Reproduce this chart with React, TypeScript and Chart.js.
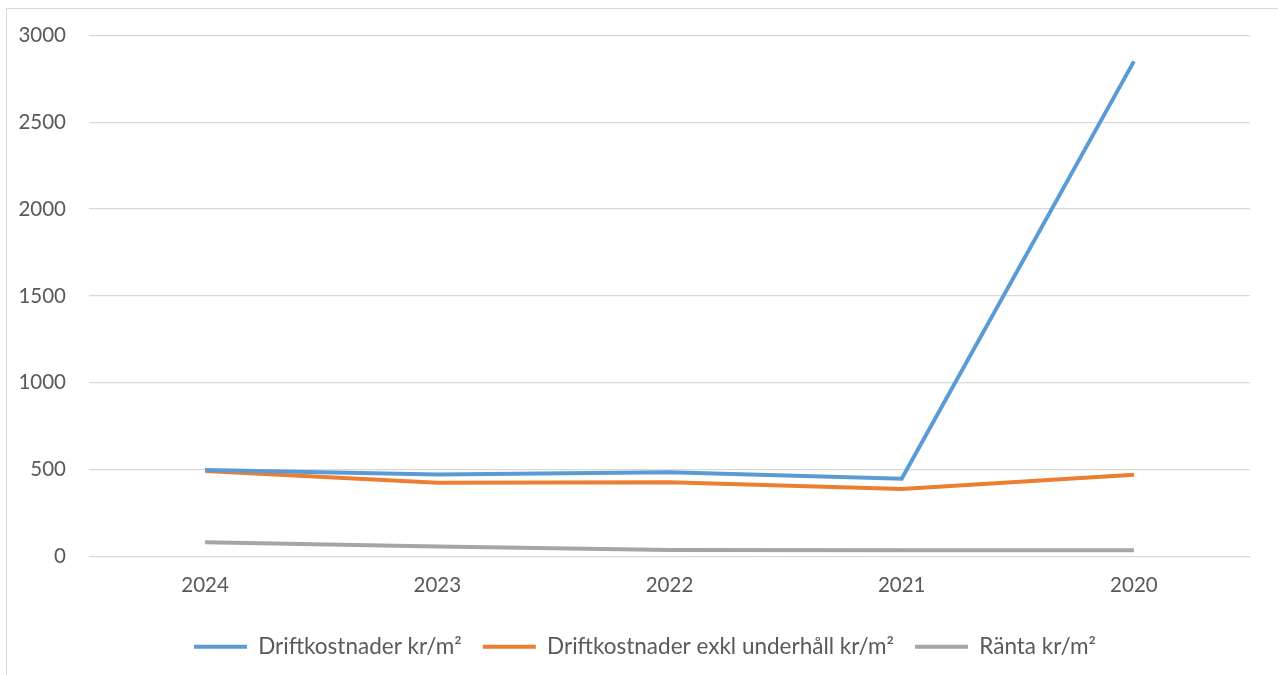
import React, { useEffect, useRef } from "react";
import { Chart, registerables } from "chart.js";

Chart.register(...registerables);

const categories = ["2024", "2023", "2022", "2021", "2020"];
const driftkostnader = [498, 472, 485, 448, 2850];
const driftkostnaderExkl = [492, 424, 427, 389, 471];
const ranta = [82, 58, 37, 36, 36];
const yTicks = [0, 500, 1000, 1500, 2000, 2500, 3000];

const FONT = "Lato";
const TEXT = "#595959";

const legendShift = {
  id: "legendShift",
  afterLayout(chart: any) {
    if (chart.legend) {
      chart.legend.left += 20;
      chart.legend.right += 20;
    }
  },
};

export default function App() {
  const ref = useRef<HTMLCanvasElement>(null);
  useEffect(() => {
    if (!ref.current) return;
    const chart = new Chart(ref.current, {
      type: "line",
      data: {
        labels: categories,
        datasets: [
          { label: "Driftkostnader kr/m²", data: driftkostnader, borderColor: "#5B9BD5", backgroundColor: "#5B9BD5", borderWidth: 4, pointRadius: 0, tension: 0 },
          { label: "Driftkostnader exkl underhåll kr/m²", data: driftkostnaderExkl, borderColor: "#ED7D31", backgroundColor: "#ED7D31", borderWidth: 4, pointRadius: 0, tension: 0 },
          { label: "Ränta kr/m²", data: ranta, borderColor: "#A5A5A5", backgroundColor: "#A5A5A5", borderWidth: 4, pointRadius: 0, tension: 0 },
        ],
      },
      options: {
        animation: false,
        responsive: false,
        maintainAspectRatio: false,
        layout: { padding: { left: 0, right: 28, top: 35, bottom: 7 } },
        scales: {
          x: {
            offset: true,
            grid: { display: false, drawTicks: false },
            border: { display: false },
            ticks: { color: TEXT, font: { family: FONT, size: 20.5 }, padding: 17 },
            afterFit: (s: any) => { s.height = 58; },
          },
          y: {
            min: 0,
            max: 3000,
            afterBuildTicks: (s: any) => { s.ticks = yTicks.map((v) => ({ value: v })); },
            grid: { color: "#D9D9D9", lineWidth: 1.3, drawTicks: false },
            border: { display: false },
            ticks: {
              color: TEXT,
              font: { family: FONT, size: 20.5 },
              padding: 23,
              callback: (v: any) => String(v),
            },
            afterFit: (s: any) => { s.width = 89; },
          },
        },
        plugins: {
          legend: {
            position: "bottom",
            labels: {
              usePointStyle: true,
              pointStyle: "line",
              pointStyleWidth: 53,
              color: TEXT,
              font: { family: FONT, size: 22.5 },
              padding: 21,
            },
          },
          tooltip: { enabled: false },
        },
      },
      plugins: [legendShift],
    });
    return () => chart.destroy();
  }, []);
  return (
    <div style={{ position: "fixed", left: 0, top: 0, width: 1278, height: 675, background: "#fff" }}>
      <div style={{ position: "absolute", left: 6, top: 8, width: 1300, height: 700, borderLeft: "1px solid #D9D9D9", borderTop: "1px solid #D9D9D9" }} />
      <canvas ref={ref} width={1278} height={675} style={{ position: "absolute", left: 0, top: 0, width: 1278, height: 675 }} />
    </div>
  );
}
